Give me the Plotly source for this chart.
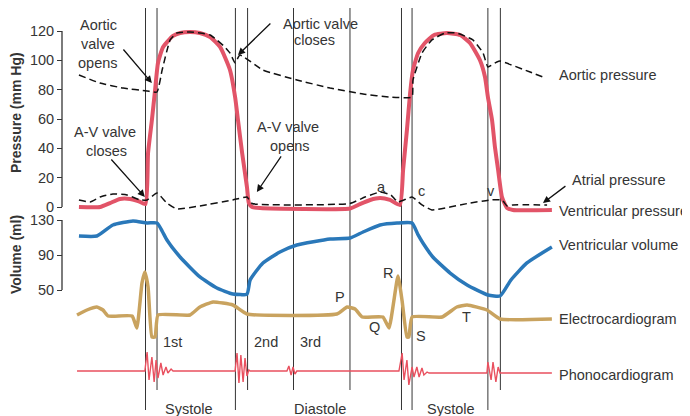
import plotly.graph_objects as go

# time in seconds, 0 = closure of the A-V valves, one beat = 0.8 s

# ventricular pressure (mm Hg)
vp_t = [-0.208, -0.142, -0.111, -0.080, -0.048, -0.023, 0.0, 0.008, 0.020, 0.030,
        0.039, 0.055, 0.086, 0.108, 0.139, 0.170, 0.202, 0.233, 0.264, 0.280,
        0.289, 0.302, 0.317, 0.323, 0.333, 0.358, 0.639, 0.670, 0.702, 0.733,
        0.764, 0.795, 0.805, 0.817, 0.827, 0.836, 0.852, 0.873, 0.902, 0.942,
        0.983, 1.014, 1.045, 1.061, 1.070, 1.083, 1.092, 1.102, 1.114, 1.130,
        1.148, 1.270]
vp_p = [0, 0, 2.7, 5.5, 5.5, 4.1, 2.0, 36.8, 59.3, 79.8,
        98.2, 109.1, 116.6, 118.6, 119.3, 118.6, 115.9, 109.1, 93.4, 75.0,
        59.3, 36.8, 13.6, 2.7, 0, -0.7, -1.0, 2.0, 4.8, 6.1,
        4.8, 1.4, 25.2, 52.5, 77.7, 93.4, 105.0, 111.8, 117.3, 118.6,
        117.3, 111.8, 100.2, 88.6, 75.0, 59.3, 40.9, 25.2, 6.8, -0.7,
        -2.0, -2.0]

# aortic pressure (mm Hg)
ao_t = [-0.208, -0.142, -0.070, 0.005, 0.036, 0.052, 0.077, 0.098, 0.139, 0.170,
        0.202, 0.223, 0.248, 0.264, 0.280, 0.295, 0.367, 0.473, 0.577, 0.680,
        0.764, 0.833, 0.836, 0.864, 0.895, 0.936, 0.973, 1.023, 1.055, 1.070,
        1.098, 1.108, 1.202, 1.242]
ao_p = [90.0, 84.5, 81.1, 79.1, 78.4, 93.4, 113.9, 118.6, 119.3, 118.6,
        117.3, 113.9, 109.1, 105.0, 98.2, 103.6, 93.4, 86.6, 81.1, 77.0,
        75.0, 75.0, 86.6, 105.0, 113.9, 118.6, 118.6, 113.9, 105.0, 95.5,
        98.9, 99.5, 92.0, 88.6]

# atrial pressure (mm Hg)
at_t = [-0.208, -0.173, -0.142, -0.102, -0.058, -0.017, 0.005, 0.036, 0.067, 0.098,
        0.170, 0.273, 0.317, 0.333, 0.639, 0.686, 0.733, 0.767, 0.789, 0.833,
        0.864, 0.895, 1.014, 1.077, 1.114, 1.130, 1.148, 1.255]
at_p = [4.8, 3.4, 6.8, 8.9, 8.2, 4.8, 4.8, 9.5, 2.7, -1.4,
        0.7, 4.8, 6.8, 2.4, 2.4, 6.8, 10.2, 8.2, 3.4, 6.8,
        1.4, -2.0, 2.7, 4.8, 4.8, 0.7, 1.4, 1.4]

# ventricular volume (ml)
vol_t = [-0.208, -0.152, -0.102, -0.039, 0.005, 0.036, 0.052, 0.067, 0.108, 0.170,
         0.223, 0.273, 0.317, 0.327, 0.367, 0.420, 0.473, 0.577, 0.639, 0.680,
         0.733, 0.786, 0.833, 0.852, 0.867, 0.898, 0.952, 1.005, 1.070, 1.108,
         1.142, 1.192, 1.270]
vol_v = [111.7, 111.7, 124.3, 128.9, 126.6, 126.6, 117.4, 107.1, 87.7, 64.9,
         52.3, 45.4, 45.4, 61.4, 80.9, 93.4, 101.4, 108.3, 109.4, 116.3,
         124.3, 126.6, 126.6, 112.9, 103.7, 87.7, 69.4, 55.7, 44.3, 43.1,
         61.4, 80.9, 99.1]

# electrocardiogram (mV)
ecg_t = [-0.214, -0.183, -0.152, -0.133, -0.117, -0.042, -0.027, -0.011, -0.002, 0.008,
         0.020, 0.030, 0.039, 0.139, 0.170, 0.211, 0.273, 0.317, 0.598, 0.630,
         0.655, 0.677, 0.742, 0.761, 0.789, 0.802, 0.817, 0.823, 0.833, 0.927,
         0.973, 1.005, 1.067, 1.108, 1.270]
ecg_v = [0, 0.125, 0.2, 0.125, -0.025, -0.025, -0.325, 0.8, 1.075, 0.7,
         -0.55, -0.55, 0, 0, 0.2, 0.325, 0.25, 0.025, 0.025, 0.2,
         0.15, -0.05, -0.05, -0.325, 0.975, 0.35, -0.55, -0.55, -0.05, -0.05,
         0.2, 0.25, 0.125, -0.1, -0.1]

# phonocardiogram (arbitrary units)
ph_t = [-0.214, -0.002, 0.005, 0.011, 0.020, 0.027, 0.033, 0.039, 0.048, 0.055,
        0.064, 0.070, 0.080, 0.086, 0.280, 0.286, 0.292, 0.298, 0.305, 0.311,
        0.317, 0.323, 0.327, 0.442, 0.448, 0.455, 0.461, 0.467, 0.473, 0.792,
        0.802, 0.808, 0.817, 0.823, 0.833, 0.839, 0.848, 0.855, 0.864, 0.870,
        0.880, 0.886, 1.067, 1.070, 1.080, 1.086, 1.095, 1.102, 1.108, 1.270]
ph_a = [0, 0, 1.9, -0.9, 1.4, -1.1, 1.1, -0.7, 0.8, -0.4,
        0.4, -0.2, 0.2, 0, 0, 1.8, -1.2, 1.6, -1.1, 1.3,
        -0.5, 0.1, 0, 0, 0.5, -0.4, 0.4, -0.3, 0, 0,
        1.8, -0.9, 1.1, -1.4, 0.4, -0.6, 0.4, -0.6, 0.3, -0.4,
        -0.1, -0.2, -0.2, 0.9, -0.9, 0.9, -1.1, 0.4, -0.2, -0.2]

# event markers (s)
full_lines = [0.0, 0.281, 0.800, 0.833, 1.070]
short_lines = [0.036, 0.319, 0.4625, 0.639, 1.109]

pressure_ticks = [0, 20, 40, 60, 80, 100, 120]
volume_ticks = [50, 90, 130]

# page body has an 8px margin, so the figure is drawn 8px smaller
OFF = 8
W, H = 690 - OFF, 416 - OFF
INK = "#353535"
RED = "#e25468"
BLUE = "#2a78b9"
GOLD = "#c9a35f"
PHONO = "#e9505f"


def px(x):
    return (x - OFF) / W


def py(y):
    return 1 - (y - OFF) / H


fig = go.Figure()
fig.add_trace(go.Scatter(x=vp_t, y=vp_p, yaxis="y", mode="lines",
                         line=dict(color=RED, width=4, shape="spline", smoothing=0.5)))
fig.add_trace(go.Scatter(x=ao_t, y=ao_p, yaxis="y", mode="lines",
                         line=dict(color="#111", width=1.5, dash="7px,4px",
                                   shape="spline", smoothing=0.4)))
fig.add_trace(go.Scatter(x=at_t, y=at_p, yaxis="y", mode="lines",
                         line=dict(color="#111", width=1.5, dash="7px,4px",
                                   shape="spline", smoothing=0.4)))
fig.add_trace(go.Scatter(x=vol_t, y=vol_v, yaxis="y2", mode="lines",
                         line=dict(color=BLUE, width=3.5, shape="spline", smoothing=0.5)))
fig.add_trace(go.Scatter(x=ecg_t, y=ecg_v, yaxis="y3", mode="lines",
                         line=dict(color=GOLD, width=3.5, shape="spline", smoothing=0.4)))
fig.add_trace(go.Scatter(x=ph_t, y=ph_a, yaxis="y4", mode="lines",
                         line=dict(color=PHONO, width=1.4)))

shapes = []
for t in full_lines:
    shapes.append(dict(type="line", xref="x", yref="paper", x0=t, x1=t,
                       y0=py(410), y1=1, line=dict(color=INK, width=1), layer="below"))
for t in short_lines:
    shapes.append(dict(type="line", xref="x", yref="paper", x0=t, x1=t,
                       y0=py(390), y1=1, line=dict(color=INK, width=1), layer="below"))
# axis brackets
shapes.append(dict(type="line", xref="paper", yref="y", x0=px(62), x1=px(62),
                   y0=0, y1=120, line=dict(color=INK, width=1.3)))
shapes.append(dict(type="line", xref="paper", yref="y2", x0=px(62), x1=px(62),
                   y0=50, y1=130, line=dict(color=INK, width=1.3)))

annotations = []


def label(text, x, y, size=14.5, xanchor="center", bold=False, angle=0):
    if bold:
        text = "<b>" + text + "</b>"
    annotations.append(dict(text=text, x=px(x), y=py(y), xref="paper", yref="paper",
                            xanchor=xanchor, yanchor="middle", showarrow=False,
                            textangle=angle, font=dict(size=size, color=INK)))


def arrow(tail, tip):
    annotations.append(dict(text="", x=tip[0], y=tip[1], ax=tail[0], ay=tail[1],
                            xref="x", yref="y", axref="x", ayref="y",
                            showarrow=True, arrowhead=2, arrowsize=1.1,
                            arrowwidth=1.3, arrowcolor="#111"))


label("Aortic", 98, 25)
label("valve", 98, 44)
label("opens", 98, 63)
arrow((-0.073, 108.4), (0.020, 84.5))

label("A-V valve", 105, 132)
label("closes", 106, 151)
arrow((-0.111, 33.4), (-0.002, 6.8))

label("Aortic valve", 320, 24)
label("closes", 314, 40)
arrow((0.395, 126.1), (0.289, 103.6))

label("A-V valve", 288, 127)
label("opens", 290, 146)
arrow((0.427, 35.5), (0.348, 10.2))

label("a", 382, 187)
label("c", 421, 191)
label("v", 491, 191)

label("Aortic pressure", 557, 75, xanchor="left")
label("Atrial pressure", 570, 180, xanchor="left")
arrow((1.317, 15.0), (1.242, 2.7))
label("Ventricular pressure", 557, 211, xanchor="left")
label("Ventricular volume", 557, 245, xanchor="left")
label("Electrocardiogram", 557, 319, xanchor="left")
label("Phonocardiogram", 557, 375, xanchor="left")

label("P", 340, 297)
label("Q", 374, 327)
label("R", 388, 273)
label("S", 421, 336)
label("T", 467, 317)

label("1st", 172, 342)
label("2nd", 266, 342)
label("3rd", 310, 342)

label("Systole", 189, 409)
label("Diastole", 320, 409)
label("Systole", 451, 409)

label("Pressure (mm Hg)", 16, 113, size=14, bold=True, angle=-90)
label("Volume (ml)", 16, 255, size=14, bold=True, angle=-90)

axis_common = dict(anchor="free", position=px(62), ticks="outside", ticklen=5,
                   tickwidth=1.3, tickcolor=INK, showgrid=False, zeroline=False,
                   showline=False, tickfont=dict(size=14.5, color=INK), automargin=False)

# axis ranges chosen so the figure spans the same pixels as the original scale
fig.update_layout(
    width=W, height=H, template="none", showlegend=False,
    margin=dict(l=0, r=0, t=0, b=0),
    paper_bgcolor="white", plot_bgcolor="white",
    font=dict(family="Liberation Sans, Arial, sans-serif", size=14.5, color=INK),
    xaxis=dict(range=[-0.4297, 1.7016], domain=[0, 1], visible=False, automargin=False),
    yaxis=dict(range=[-142.5, 135.68], domain=[0, 1], tickvals=pressure_ticks, **axis_common),
    yaxis2=dict(range=[-94.0, 372.29], overlaying="y", tickvals=volume_ticks, **axis_common),
    yaxis3=dict(range=[-2.525, 7.675], overlaying="y", visible=False),
    yaxis4=dict(range=[-4.5, 36.3], overlaying="y", visible=False),
    shapes=shapes,
    annotations=annotations,
)

fig.write_html("out.html")
